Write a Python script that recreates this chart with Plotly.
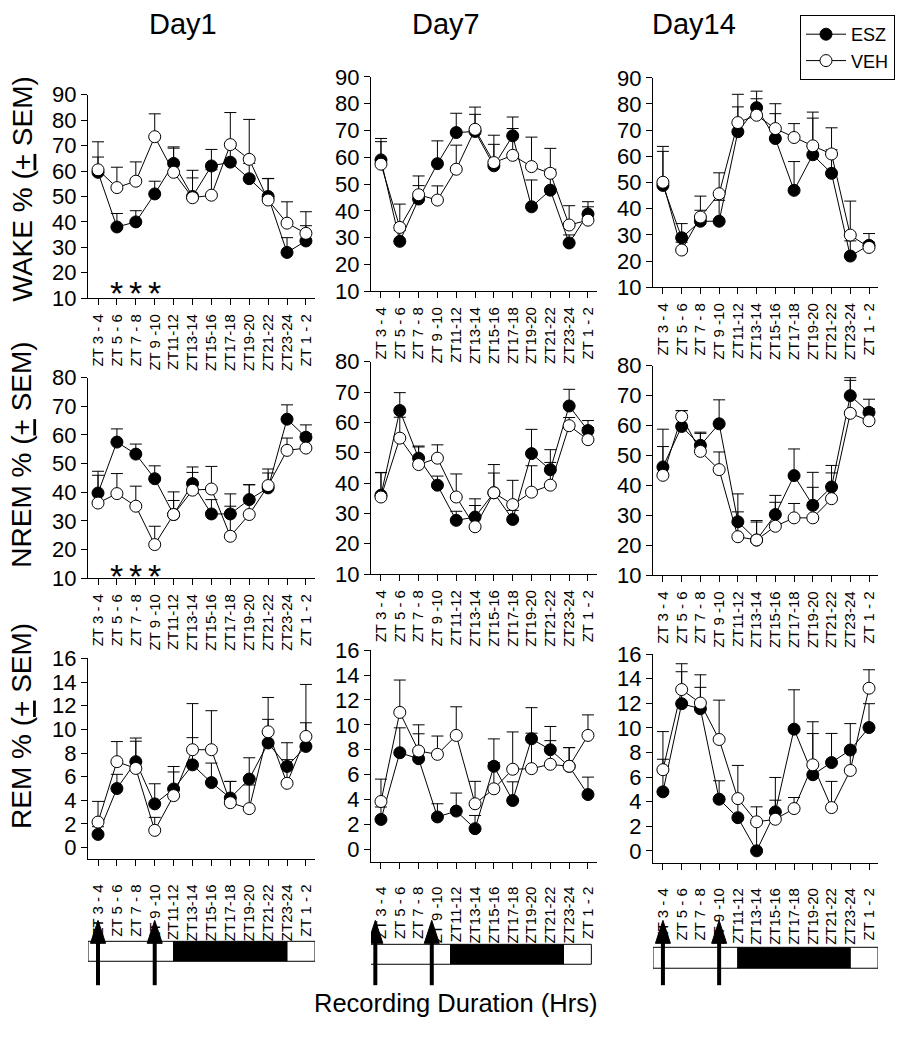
import plotly.graph_objects as go

W, H = 909, 1050
# empirical vertical mapping between reference pixels and page pixels
VY_SCALE, VY_OFF = 0.979, 11.0

categories = ["ZT 3 - 4", "ZT 5 - 6", "ZT 7 - 8", "ZT 9 -10", "ZT11-12", "ZT13-14",
              "ZT15-16", "ZT17-18", "ZT19-20", "ZT21-22", "ZT23-24", "ZT 1 - 2"]
days = ["Day1", "Day7", "Day14"]
series_names = ["ESZ", "VEH"]

# WAKE
wake_d1_esz = [59.5, 38, 40, 51, 63, 50, 62, 63.5, 57, 50, 28, 32.5]
wake_d1_esz_err = [6, 5.3, 4.4, 5, 6, 7.3, 6.5, 7.5, 6, 7, 5.8, 6]
wake_d1_veh = [60.5, 53.5, 56, 73.5, 59.5, 49.5, 50.5, 70.4, 64.6, 48.6, 39.5, 35.5]
wake_d1_veh_err = [11, 8, 7.6, 9, 10, 10.8, 10, 12.6, 15.7, 8.5, 8.4, 8.5]

wake_d7_esz = [59, 28.6, 44.4, 57.6, 69.2, 69.6, 56.8, 68, 41.5, 47.7, 28, 38.8]
wake_d7_esz_err = [8, 4, 5, 8.5, 7.2, 6.4, 8, 7, 10, 7.8, 3, 4.6]
wake_d7_veh = [57.4, 33.8, 46, 44, 55.5, 70.4, 58, 60.7, 56.5, 54, 34.7, 36.5]
wake_d7_veh_err = [8.4, 8.7, 7, 5.3, 9, 8.3, 10.2, 10, 11, 9.3, 7.2, 5]

wake_d14_esz = [48.9, 28.9, 35.2, 35.2, 69.4, 78.6, 66.8, 47, 60.6, 53.5, 21.9, 26]
wake_d14_esz_err = [13, 5.4, 4.2, 8, 9.5, 6.3, 9.5, 11, 14, 9, 5.8, 4.5]
wake_d14_veh = [50.1, 24.2, 36.8, 45.7, 72.9, 75.7, 70.6, 67.2, 64, 60.9, 29.9, 25.2]
wake_d14_veh_err = [13.7, 3, 8, 8, 10.8, 6.3, 9.5, 5.3, 12.9, 10, 13, 2]

# NREM
nrem_d1_esz = [39.7, 57.5, 53.3, 44.7, 32.2, 43, 32.4, 32.4, 37.4, 41.5, 65.5, 59.2]
nrem_d1_esz_err = [6.2, 4.6, 3.5, 4.5, 4.9, 5.8, 5, 7, 5.2, 6.6, 5, 4.3]
nrem_d1_veh = [36.2, 39.5, 35.1, 21.7, 32.2, 40.7, 41.1, 24.6, 32.2, 42.3, 54.6, 55.4]
nrem_d1_veh_err = [11.1, 7, 7, 6.4, 7.9, 6.2, 7.9, 10.5, 10.4, 4.4, 4.3, 5]

nrem_d7_esz = [36, 63.9, 48.2, 39.3, 27.7, 28.8, 36.8, 28, 49.7, 44.4, 65.4, 57.3]
nrem_d7_esz_err = [7.5, 5.9, 4, 3, 3, 6, 9.3, 3, 8, 6.6, 5.5, 3.3]
nrem_d7_veh = [35.4, 54.8, 46.1, 48.2, 35.4, 25.6, 36.8, 32.9, 37, 39.3, 58.9, 54.3]
nrem_d7_veh_err = [8, 6.9, 5.8, 4.4, 7.6, 7, 6.5, 8, 8.7, 7.5, 2.7, 4]

nrem_d14_esz = [46.2, 59.7, 53.4, 60.6, 27.9, 21.8, 30.3, 43.3, 33.4, 39.5, 70, 64.4]
nrem_d14_esz_err = [6.8, 5.3, 4.4, 8, 9.3, 6.5, 6.4, 8.9, 11, 7.2, 6, 4.4]
nrem_d14_veh = [43.4, 63, 51.4, 45.3, 22.9, 21.8, 26.4, 29.2, 29.2, 35.6, 64.1, 61.6]
nrem_d14_veh_err = [15.4, 2, 6, 5.9, 8.3, 6, 8, 4.8, 10.2, 8.6, 11, 4]

# REM
rem_d1_esz = [1.12, 5.0, 7.27, 3.7, 4.96, 7.0, 5.5, 4.2, 5.8, 8.85, 6.87, 8.56]
rem_d1_esz_err = [0.65, 1.2, 2, 1.7, 1.9, 2.3, 1.65, 1.4, 1.8, 2, 2, 2]
rem_d1_veh = [2.16, 7.27, 6.7, 1.46, 4.4, 8.28, 8.28, 3.8, 3.3, 9.8, 5.44, 9.4]
rem_d1_veh_err = [1.75, 1.7, 2.3, 1.1, 2, 3.9, 3.3, 1.8, 2, 2.9, 2, 4.4]

rem_d7_esz = [2.4, 7.76, 7.28, 2.6, 3.07, 1.66, 6.67, 3.92, 8.88, 8.0, 6.67, 4.4]
rem_d7_esz_err = [1, 2, 2, 1.06, 1.45, 1.06, 2.2, 1.5, 2.5, 1.87, 1.5, 1.4]
rem_d7_veh = [3.84, 11.0, 7.9, 7.63, 9.15, 3.66, 4.86, 6.43, 6.48, 6.83, 6.67, 9.15]
rem_d7_veh_err = [1.8, 2.6, 2.1, 1.47, 2.3, 1.8, 2.1, 3, 2.85, 1.9, 1.5, 1.65]

rem_d14_esz = [4.8, 11.97, 11.56, 4.2, 2.7, 0, 3.17, 9.9, 6.19, 7.18, 8.2, 10.03]
rem_d14_esz_err = [2.65, 2.6, 1.74, 1.5, 1.5, 2.3, 2.8, 3.2, 3.35, 2.37, 2.15, 1.94]
rem_d14_veh = [6.6, 13.12, 12.02, 9.06, 4.25, 2.36, 2.57, 3.44, 7.0, 3.52, 6.54, 13.23]
rem_d14_veh_err = [3.1, 2.1, 2.3, 3.2, 2.7, 1.22, 1.55, 0.9, 3.5, 2.13, 1.5, 1.5]

row_titles = ["WAKE % (<u>+</u> SEM)", "NREM % (<u>+</u> SEM)", "REM % (<u>+</u> SEM)"]
row_ranges = [[10, 90], [10, 80], [-1, 16]]
row_ticks = [list(range(10, 91, 10)), list(range(10, 81, 10)), list(range(0, 17, 2))]
sig_idx = [1, 2, 3]
light_dark = [("light", -0.53, 4), ("dark", 4, 10), ("light", 10, 11.48)]
injection_idx = [0, 3]

panels = [
    [(wake_d1_esz, wake_d1_esz_err, wake_d1_veh, wake_d1_veh_err),
     (wake_d7_esz, wake_d7_esz_err, wake_d7_veh, wake_d7_veh_err),
     (wake_d14_esz, wake_d14_esz_err, wake_d14_veh, wake_d14_veh_err)],
    [(nrem_d1_esz, nrem_d1_esz_err, nrem_d1_veh, nrem_d1_veh_err),
     (nrem_d7_esz, nrem_d7_esz_err, nrem_d7_veh, nrem_d7_veh_err),
     (nrem_d14_esz, nrem_d14_esz_err, nrem_d14_veh, nrem_d14_veh_err)],
    [(rem_d1_esz, rem_d1_esz_err, rem_d1_veh, rem_d1_veh_err),
     (rem_d7_esz, rem_d7_esz_err, rem_d7_veh, rem_d7_veh_err),
     (rem_d14_esz, rem_d14_esz_err, rem_d14_veh, rem_d14_veh_err)],
]

# layout geometry (reference pixels)
col_px = [(88, 315), (371, 597), (653, 878)]
row_px = [
    [(94, 298), (76, 291), (77, 287)],
    [(377.7, 578.7), (361.7, 574.7), (365.7, 576)],
    [(659.3, 860.9), (651, 863.2), (655, 864.6)],
]
row_label_gap = [3, 3, 12]
bar_px = [(943, 963), (946, 966), (949, 970)]
bar_shift = [0, -0.3, 0]

FONT = "Arial, Liberation Sans, sans-serif"
fig = go.Figure()
layout = {}


def px_x(p):
    return p / W


def px_y(p):
    page = (p - VY_OFF) / VY_SCALE
    return 1 - page / H


xidx = list(range(len(categories)))
n = 0
for r in range(3):
    for c in range(3):
        n += 1
        xa = "x" if n == 1 else f"x{n}"
        ya = "y" if n == 1 else f"y{n}"
        esz, esz_err, veh, veh_err = panels[r][c]
        for name, vals, errs, fill in [("ESZ", esz, esz_err, "black"), ("VEH", veh, veh_err, "white")]:
            fig.add_trace(go.Scatter(
                x=xidx, y=vals, mode="lines+markers", name=name,
                xaxis=xa, yaxis=ya, showlegend=(n == 1),
                line=dict(color="black", width=1),
                marker=dict(size=12, color=fill, line=dict(color="black", width=1)),
                error_y=dict(type="data", array=errs, arrayminus=[0] * len(errs),
                             symmetric=False, color="black", thickness=1, width=6),
            ))
        top, bot = row_px[r][c]
        l, rr = col_px[c]
        layout["xaxis" if n == 1 else f"xaxis{n}"] = dict(
            domain=[px_x(l), px_x(rr)], anchor=ya, range=[-0.53, 11.48],
            tickmode="array", tickvals=xidx, ticktext=categories, tickangle=-90,
            ticks="outside", ticklen=6, tickwidth=1, tickcolor="black",
            showline=True, linecolor="black", linewidth=1, showgrid=False, zeroline=False,
            tickfont=dict(family=FONT, size=15, color="black"), ticklabelstandoff=row_label_gap[r],
        )
        layout["yaxis" if n == 1 else f"yaxis{n}"] = dict(
            domain=[px_y(bot), px_y(top)], anchor=xa, range=row_ranges[r],
            tickmode="array", tickvals=row_ticks[r],
            ticks="outside", ticklen=6, tickwidth=1, tickcolor="black",
            showline=True, linecolor="black", linewidth=1, showgrid=False, zeroline=False,
            tickfont=dict(family=FONT, size=22, color="black"),
        )

annotations = []
shapes = []
for c, d in enumerate(days):
    annotations.append(dict(text=d, x=px_x([183, 446, 694][c]), y=px_y(23), xref="paper", yref="paper",
                            xanchor="center", yanchor="middle",
                            showarrow=False, font=dict(family=FONT, size=29, color="black")))
for r, t in enumerate(row_titles):
    annotations.append(dict(text=t, x=px_x(22), y=px_y([189, 455, 727][r]), xref="paper", yref="paper",
                            xanchor="center", yanchor="middle",
                            textangle=-90, showarrow=False, font=dict(family=FONT, size=28, color="black")))
annotations.append(dict(text="Recording Duration (Hrs)", x=px_x(455), y=px_y(1005), xref="paper", yref="paper",
                        xanchor="center", yanchor="middle",
                        showarrow=False, font=dict(family=FONT, size=25.5, color="black")))
# significance asterisks
for i in sig_idx:
    annotations.append(dict(text="*", x=i, y=13.8, xref="x", yref="y", yshift=-4, showarrow=False,
                            xanchor="center", yanchor="middle",
                            font=dict(family=FONT, size=34, color="black")))
    annotations.append(dict(text="*", x=i, y=12.3, xref="x4", yref="y4", yshift=-5, showarrow=False,
                            xanchor="center", yanchor="middle",
                            font=dict(family=FONT, size=34, color="black")))

# light/dark bars and injection arrows
for c in range(3):
    xa = ["x7", "x8", "x9"][c]
    top, bot = bar_px[c]
    s = bar_shift[c]
    for kind, x0, x1 in light_dark:
        shapes.append(dict(type="rect", xref=xa, yref="paper", x0=x0 + s, x1=x1 + s,
                           y0=px_y(bot), y1=px_y(top), line=dict(color="black", width=1),
                           fillcolor="black" if kind == "dark" else "white"))
    for i in injection_idx:
        xi = i + s
        shapes.append(dict(type="line", xref=xa, yref="paper", x0=xi, x1=xi,
                           y0=px_y(987), y1=px_y(940), line=dict(color="black", width=4)))
        hw = 0.4
        shapes.append(dict(type="path", xref=xa, yref="paper",
                           path=f"M {xi - hw},{px_y(945)} L {xi + hw},{px_y(945)} L {xi},{px_y(922)} Z",
                           fillcolor="black", line=dict(color="black", width=1)))

fig.update_layout(
    **layout,
    width=W, height=H, margin=dict(l=0, r=0, t=0, b=0),
    paper_bgcolor="white", plot_bgcolor="white",
    annotations=annotations, shapes=shapes,
    showlegend=True,
    legend=dict(x=px_x(800), y=px_y(14), xanchor="left", yanchor="top",
                bordercolor="black", borderwidth=1, bgcolor="white", itemwidth=40,
                font=dict(family=FONT, size=18, color="black"), tracegroupgap=0),
    font=dict(family=FONT, color="black"),
)

fig.write_html("out.html", config={"displayModeBar": False, "staticPlot": True},
               post_script="document.body.style.margin='0px';")
